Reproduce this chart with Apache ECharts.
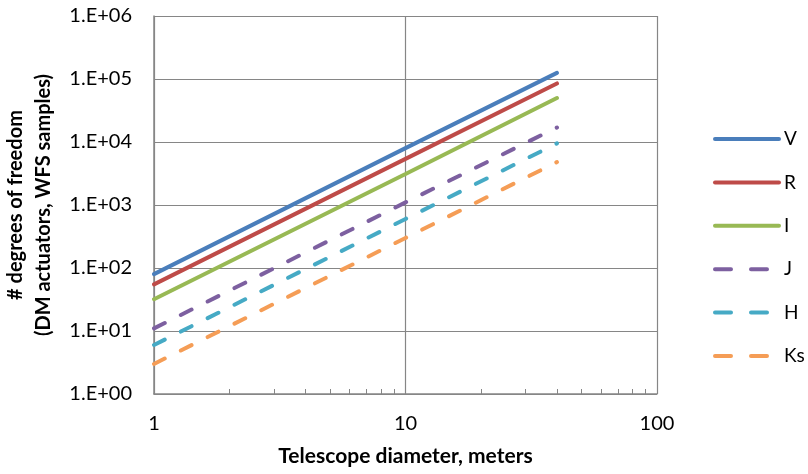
<!DOCTYPE html>
<html><head><meta charset="utf-8">
<script src="https://cdn.jsdelivr.net/npm/echarts@6/dist/echarts.min.js"></script>
<style>html,body{margin:0;padding:0;background:#fff}#c{width:808px;height:474px}</style>
</head><body><div id="c"></div>
<script>
const diameters = [1, 10, 40];
const seriesNames = ['V', 'R', 'I', 'J', 'H', 'Ks'];
const V  = [80, 8000, 125000];
const R  = [55, 5400, 85000];
const I  = [32, 3100, 50000];
const J  = [11, 1100, 17000];
const H  = [6, 600, 9500];
const Ks = [3, 300, 4800];
const seriesValues = [V, R, I, J, H, Ks];
const colors = ['#4A7EBB', '#BE4B48', '#98B954', '#7D60A0', '#46AAC5', '#F59D56'];
const dashed = [false, false, false, true, true, true];
const FONT = 'Lato, "Open Sans", sans-serif';

const chart = echarts.init(document.getElementById('c'));
chart.setOption({
  animation: false,
  grid: {left: 154, right: 151, top: 16, bottom: 80, containLabel: false, outerBoundsMode: 'none'},
  legend: {
    orient: 'vertical', left: 713, top: 129, padding: 0,
    itemWidth: 64, itemHeight: 4, itemGap: 23.4,
    itemStyle: {opacity: 0},
    lineStyle: {width: 4, cap: 'round'},
    textStyle: {fontFamily: FONT, fontSize: 19, lineHeight: 20, color: '#000'},
    data: seriesNames.map((n, i) => dashed[i]
      ? {name: n, lineStyle: {type: [16, 20], width: 4, cap: 'round'}}
      : {name: n})
  },
  xAxis: {
    type: 'log', logBase: 10, min: 1, max: 100,
    name: 'Telescope diameter, meters', nameLocation: 'middle', nameGap: 52,
    nameTextStyle: {fontFamily: FONT, fontSize: 21, fontWeight: 'bold', color: '#000'},
    axisLine: {show: true, lineStyle: {color: '#868686', width: 1.5}},
    axisTick: {show: false, inside: true},
    minorTick: {show: true, splitNumber: 9, length: 5, lineStyle: {color: '#868686'}},
    axisLabel: {fontFamily: FONT, fontSize: 20, color: '#000', margin: 20},
    splitLine: {show: true, lineStyle: {color: '#868686', width: 1.2}}
  },
  yAxis: {
    type: 'log', logBase: 10, min: 1, max: 1000000,
    name: '# degrees of freedom\n(DM actuators, WFS samples)', nameLocation: 'middle', nameGap: 96,
    nameTextStyle: {fontFamily: FONT, fontSize: 20, fontWeight: 'bold', color: '#000', lineHeight: 28},
    axisLine: {show: true, lineStyle: {color: '#868686', width: 1.5}},
    axisTick: {show: false},
    axisLabel: {fontFamily: FONT, fontSize: 20, color: '#000', margin: 22,
      formatter: v => { const e = Math.round(Math.log10(v)); return '1.E+' + (e < 10 ? '0' : '') + e; }},
    splitLine: {show: true, lineStyle: {color: '#868686', width: 1.2}}
  },
  series: seriesNames.map((n, i) => ({
    name: n, type: 'line', symbol: 'none',
    data: diameters.map((d, k) => [d, seriesValues[i][k]]),
    itemStyle: {color: colors[i]},
    lineStyle: {color: colors[i], width: 4, cap: 'round',
      type: dashed[i] ? [12, 18] : 'solid'}
  }))
});
</script></body></html>
